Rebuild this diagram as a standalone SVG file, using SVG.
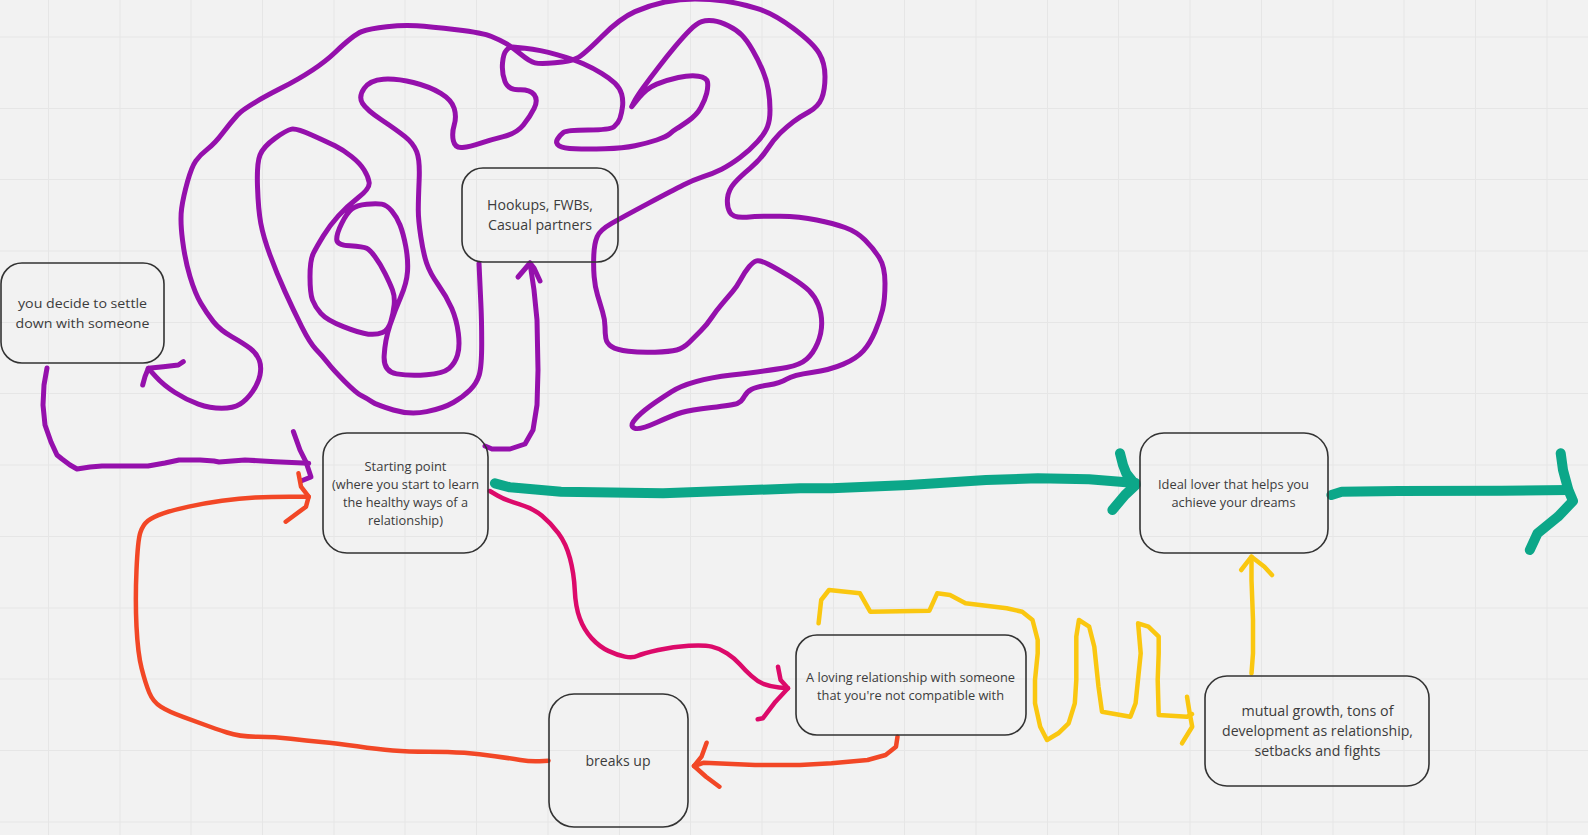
<svg xmlns="http://www.w3.org/2000/svg" width="1588" height="835" viewBox="0 0 1588 835">
<style>
.bg{fill:#f2f2f2}
.grid{stroke:#e6e6e6;stroke-width:1;fill:none}
.box{fill:none;stroke:#333;stroke-width:1.6}
.t{font-family:"Open Sans","Noto Sans","Liberation Sans",sans-serif;fill:#3c3c3c;text-anchor:middle}
.s{fill:none;stroke-linecap:round;stroke-linejoin:round}
.pu{stroke:#9510ac;stroke-width:5}
.gr{stroke:#0ca789;stroke-width:10}
.or{stroke:#f24726;stroke-width:4.5}
.pk{stroke:#dc0a6a;stroke-width:4.5}
.ye{stroke:#fac710;stroke-width:4.5}
</style>
<rect class="bg" x="0" y="0" width="1588" height="835"/>
<path class="grid" d="M48.5,0V835M120,0V835M191,0V835M262.5,0V835M334,0V835M405,0V835M476.5,0V835M548,0V835M619.5,0V835M690.5,0V835M762,0V835M833.5,0V835M904.5,0V835M976,0V835M1047.5,0V835M1118.5,0V835M1190,0V835M1261.5,0V835M1333,0V835M1404,0V835M1475.5,0V835M1547,0V835M0,37H1588M0,108.5H1588M0,179.5H1588M0,251H1588M0,322.5H1588M0,393.5H1588M0,465H1588M0,536.5H1588M0,608H1588M0,679H1588M0,750.5H1588M0,822H1588"/>

<g id="connectors">
<path class="s pu" d="M148.3,368.3 L155.8,376.65 Q163.3,385 175,392.5 Q186.7,400 198.35,404.15 Q210,408.3 221.65,408.3 Q233.3,408.3 240,404.15 Q246.7,400 252.5,391.65 Q258.3,383.3 260,375 Q261.7,366.7 259.2,360 Q256.7,353.3 250,348.3 Q243.3,343.3 231.65,336.65 Q220,330 213.35,321.65 Q206.7,313.3 200.85,303.3 Q195,293.3 190,276.65 Q185,260 182.5,240 Q180,220 181.65,208.35 Q183.3,196.7 187.5,181.7 Q191.7,166.7 195.85,160.85 Q200,155 207.5,149.15 Q215,143.3 222.5,133.3 Q230,123.3 237.5,115 Q245,106.7 280.85,88.35 Q316.7,70 335,52.5 Q353.3,35 361.65,31.65 Q370,28.3 386.65,26.65 Q403.3,25 416.65,25.85 Q430,26.7 456.5,29.85 Q483,33 491.5,36.5 Q500,40 505.85,43.35 Q511.7,46.7 520.85,54.2 Q530,61.7 535,62.85 Q540,64 555,62.85 Q570,61.7 576.65,58.35 Q583.3,55 601.65,36.65 Q620,18.3 635,11.65 Q650,5 665,2 Q680,-1 695,-1 Q710,-1 725,1.15 Q740,3.3 756.65,8.3 Q773.3,13.3 793.3,28.3 Q813.3,43.3 819.15,53.3 Q825,63.3 825,76.65 Q825,90 821.65,98.35 Q818.3,106.7 809.15,111.7 Q800,116.7 793.35,121.7 Q786.7,126.7 780,133.35 Q773.3,140 766.65,150 Q760,160 750,168.35 Q740,176.7 734.15,183.35 Q728.3,190 727.5,198.35 Q726.7,206.7 730,212.5 Q733.3,218.3 746.65,217.15 Q760,216 780,216.35 Q800,216.7 816.65,220 Q833.3,223.3 845,227.5 Q856.7,231.7 865,240 Q873.3,248.3 879.15,257.5 Q885,266.7 885,283.35 Q885,300 882.5,310 Q880,320 875,331.65 Q870,343.3 863.35,350.8 Q856.7,358.3 843.35,364.15 Q830,370 811.65,372.5 Q793.3,375 786.65,379.15 Q780,383.3 768.35,385 Q756.7,386.7 751.7,389.2 Q746.7,391.7 744.2,396.7 Q741.7,401.7 737.5,403.35 Q733.3,405 711.65,407.5 Q690,410 681.65,412.5 Q673.3,415 656.65,422.5 Q640,430 635,428.35 Q630,426.7 633.35,421.7 Q636.7,416.7 645,410 Q653.3,403.3 671.65,391.65 Q690,380 731.65,375 Q773.3,370 786.65,367.5 Q800,365 806.65,359.15 Q813.3,353.3 817.5,343.3 Q821.7,333.3 821.7,323.3 Q821.7,313.3 818.35,305 Q815,296.7 809.15,290.85 Q803.3,285 790,276.65 Q776.7,268.3 768.35,264.15 Q760,260 756.65,260.85 Q753.3,261.7 749.15,266.7 Q745,271.7 740.85,279.2 Q736.7,286.7 732.5,291.7 Q728.3,296.7 722.5,303.35 Q716.7,310 711.7,317.5 Q706.7,325 700.85,330.85 Q695,336.7 689.15,342.5 Q683.3,348.3 676.65,350 Q670,351.7 655,352.2 Q640,352.7 628.35,351.35 Q616.7,350 611.7,346.65 Q606.7,343.3 605.85,338.3 Q605,333.3 605,326.65 Q605,320 602.5,311.65 Q600,303.3 597.5,295 Q595,286.7 594.15,276.7 Q593.3,266.7 593.8,255 Q594.3,243.3 597.15,236.65 Q600,230 611.65,223.35 Q623.3,216.7 648.3,203.35 Q673.3,190 683.3,185 Q693.3,180 703.3,176.65 Q713.3,173.3 721.65,169.15 Q730,165 740,157.5 Q750,150 757.5,141.65 Q765,133.3 767.5,126.65 Q770,120 770,110 Q770,100 768.35,90 Q766.7,80 762.5,70 Q758.3,60 752.5,50 Q746.7,40 741.7,35 Q736.7,30 728.35,25.85 Q720,21.7 713.35,20.85 Q706.7,20 701.7,21.65 Q696.7,23.3 690,30 Q683.3,36.7 675,46.7 Q666.7,56.7 658.35,67.5 Q650,78.3 643.35,87.5 Q636.7,96.7 634.2,101.7 L631.7,106.7 L639.2,97.5 Q646.7,88.3 656.7,84.15 Q666.7,80 678.35,77.5 Q690,75 698.35,76.15 Q706.7,77.3 707.5,82 Q708.3,86.7 706.65,93.35 Q705,100 700.85,107.5 Q696.7,115 688.35,120.85 Q680,126.7 676.65,128.7 Q673.3,130.7 670,133.7 Q666.7,136.7 656.7,140 Q646.7,143.3 635,145.8 Q623.3,148.3 605,148.8 Q586.7,149.3 575,148.8 Q563.3,148.3 559.15,145.8 Q555,143.3 557.5,139.15 Q560,135 563.35,132.5 Q566.7,130 588.35,130 Q610,130 614.15,126.65 Q618.3,123.3 620,118.3 Q621.7,113.3 622.5,106.65 Q623.3,100 621.65,94.15 Q620,88.3 615,83.3 Q610,78.3 601.65,73.3 Q593.3,68.3 583.3,63.8 Q573.3,59.3 556.65,54.65 Q540,50 525,48.35 L510,46.7 L506.65,50 Q503.3,53.3 502.5,63.3 Q501.7,73.3 505,81.65 Q508.3,90 519.15,89.65 Q530,89.3 534.15,94.65 Q538.3,100 534.15,108.35 Q530,116.7 523.35,125 Q516.7,133.3 503.35,136.65 Q490,140 480,143.35 Q470,146.7 462.5,147.5 Q455,148.3 453.35,140.8 Q451.7,133.3 454.2,125 Q456.7,116.7 454.2,108.35 Q451.7,100 440.85,93.35 Q430,86.7 413.35,82.5 Q396.7,78.3 383.35,79.15 Q370,80 364.15,88.35 Q358.3,96.7 362.5,103.35 Q366.7,110 381.7,120 Q396.7,130 405,136.65 Q413.3,143.3 416.65,151.65 Q420,160 419.15,180 Q418.3,200 418.3,210 Q418.3,220 420.8,236.65 Q423.3,253.3 426.65,263.3 Q430,273.3 438.35,285 Q446.7,296.7 451.7,308.35 Q456.7,320 458.35,333.35 Q460,346.7 457.5,355 Q455,363.3 449.15,368.3 Q443.3,373.3 426.65,374.65 Q410,376 396.65,373.85 Q383.3,371.7 384.15,355.85 Q385,340 390,325 Q395,310 400.85,296.65 Q406.7,283.3 407.5,271.65 Q408.3,260 405.8,246.65 Q403.3,233.3 400,225 Q396.7,216.7 391.7,210.85 Q386.7,205 381.7,204.15 Q376.7,203.3 366.7,204.15 Q356.7,205 351.7,209.15 Q346.7,213.3 341.7,223.3 Q336.7,233.3 336.7,239.15 Q336.7,245 350,245.85 Q363.3,246.7 366.65,248.35 Q370,250 375,256.65 Q380,263.3 385,273.3 Q390,283.3 392.5,290 Q395,296.7 394.15,305 Q393.3,313.3 390.8,321.65 Q388.3,330 382.5,332.5 Q376.7,335 368.35,334.15 Q360,333.3 343.35,326.65 Q326.7,320 320.85,313.35 Q315,306.7 312.5,300 Q310,293.3 310,276.65 Q310,260 313.35,253.35 Q316.7,246.7 323.35,235.85 Q330,225 338.35,215.85 Q346.7,206.7 358.35,197.5 Q370,188.3 369.15,182.5 Q368.3,176.7 364.15,170 Q360,163.3 351.65,156.65 Q343.3,150 335,145.85 Q326.7,141.7 311.7,135 Q296.7,128.3 291.7,129.15 Q286.7,130 275,138.35 Q263.3,146.7 260,155 Q256.7,163.3 257.5,186.65 Q258.3,210 260.8,223.35 Q263.3,236.7 270,255 Q276.7,273.3 285,291.65 Q293.3,310 301.65,326.65 Q310,343.3 315.85,349.15 Q321.7,355 327.5,362.5 Q333.3,370 345,381.65 Q356.7,393.3 361.7,395.8 Q366.7,398.3 371.7,401.65 Q376.7,405 393.35,410 Q410,415 426.65,411.65 Q443.3,408.3 453.3,402.5 Q463.3,396.7 470,390 Q476.7,383.3 479.2,375 Q481.7,366.7 481.7,343.35 Q481.7,320 480.85,303.35 L479,263.3"/>
<path class="s pu" d="M183.3,361.7 L178.3,365 163.3,366.7 148.3,368.3 145,376.7 142.7,385"/>
<path class="s pu" d="M47,368 L44,385 43,405 45,425 51,442 57,455 62,459 70,465 77,469 90,467 102,466 148,466 165,463 179,460 200,460 214,461 219,462 245,460 275,461.7 308.7,463.3"/>
<path class="s pu" d="M293.4,431.7 L300,450 306,462 311,477 301,481"/>
<path class="s pu" d="M485,446 L492,449 510,449 525,444 533,430 537,405 538,370 537,320 534,290 530,263"/>
<path class="s pu" d="M518,277 L530,263 534,268 540,281"/>
<path class="s gr" d="M494.9,483.3 L510,487.3 561,491.7 663,493.3 800,488.3 831.5,488.3 908.8,485 986,480 1037.7,478.3 1089,479.3 1135.6,483"/>
<path class="s gr" d="M1120,453.3 L1123,465 1126.3,473.3 1135.6,485 1125,495 1112.4,510"/>
<path class="s gr" d="M1331.4,495 L1341.7,491.7 1398.4,491 1501.4,490.7 1568,490"/>
<path class="s gr" d="M1560.7,453.3 L1563,470 1568.4,490 1573,501 1558,516.7 1537.5,533.3 1529.8,550"/>
<path class="s pk" d="M489.8,491 L497.4,495.5 Q505,500 519,504.15 Q533,508.3 542,515.8 Q551,523.3 558.5,533.3 Q566,543.3 570,558.3 Q574,573.3 574.75,590 Q575.5,606.7 579.75,618.35 Q584,630 591.75,638.35 Q599.5,646.7 608.25,650.85 Q617,655 624.85,656.65 Q632.7,658.3 637.85,655.8 Q643,653.3 658.25,650 Q673.5,646.7 688.75,645.85 Q704,645 711.7,646.65 Q719.4,648.3 727.05,653.3 Q734.7,658.3 739.85,664.15 Q745,670 751.35,675.85 Q757.7,681.7 764.05,684.2 Q770.4,686.7 779.2,687.5 L788,688.3"/>
<path class="s pk" d="M778,666.7 L780.6,680 788,688.3 775.5,701.7 762.8,718.3 757.7,719.3"/>
<path class="s or" d="M548.5,760.7 L539.55,761.2 Q530.6,761.7 520.3,760 Q510,758.3 494.8,756.15 Q479.6,754 464.3,752.85 Q449,751.7 428.5,751.7 Q408,751.7 392.8,750.5 Q377.6,749.3 357.15,746.3 Q336.7,743.3 321.35,742 Q306,740.7 290.75,738.7 Q275.5,736.7 257.65,736.7 Q239.8,736.7 227.05,732.5 Q214.3,728.3 206.65,725.5 Q199,722.7 183.7,717.2 Q168.4,711.7 160.7,706.7 Q153,701.7 149.2,692.5 Q145.4,683.3 141.6,668.3 Q137.8,653.3 136.5,626.65 Q135.2,600 136.5,570 Q137.8,540 140.35,532.5 Q142.9,525 147.95,520.85 Q153,516.7 163.25,513.35 Q173.5,510 188.75,506.65 Q204,503.3 221.9,500.8 Q239.8,498.3 255.1,497.5 Q270.4,496.7 289.5,496.7 L308.7,496.7"/>
<path class="s or" d="M298.5,473.3 L301,486.7 308.7,496.7 306,506.7 285.7,521.7"/>
<path class="s or" d="M897.5,736.7 L896,746.7 885.6,755 867.6,760 831.5,763.3 800,765 755,765 704,762.7 694,766"/>
<path class="s or" d="M706.6,742.7 L701.5,756.7 694,766 706,776.7 719.4,786.7"/>
<path class="s ye" d="M818.6,623.3 L821.2,600 829,590 859.9,593.3 870.2,611.7 929.4,610.7 937.2,593.3 950,595 965.5,603.3 1006.7,608.3 1022.2,611.7 1032.5,620 1037.7,640 1037.7,653.3 1035,680 1035,703.3 1040.2,726.7 1047,740 1058.3,733.3 1068.6,723.3 1074.8,703.3 1076.3,680 1076.3,636.7 1078.9,620 1089.2,626.7 1094.3,646.7 1098.5,686.7 1102,711.7 1130.4,716.7 1135.6,703.3 1140.7,653.3 1138.1,623.3 1148.4,626.7 1158.7,636.7 1158.7,653.3 1157.7,680 1158.7,715 1187.1,716.7 1192,714"/>
<path class="s ye" d="M1187,696.7 L1189.7,713.3 1192.2,726.7 1182,743.3"/>
<path class="s ye" d="M1251.5,673.3 L1253,653.3 1253,620 1251.5,580 1251.5,556.7"/>
<path class="s ye" d="M1241.2,570 L1251.5,556.7 1264.4,566.7 1272,575"/>
</g>

<g id="node-settle">
<rect class="box" x="1" y="263" width="163" height="100" rx="21"/>
<text class="t" font-size="13.5"><tspan x="82.5" y="308" textLength="129" lengthAdjust="spacingAndGlyphs">you decide to settle</tspan><tspan x="82.5" y="328" textLength="134" lengthAdjust="spacingAndGlyphs">down with someone</tspan></text>
</g>
<g id="node-hookups">
<rect class="box" x="462" y="168" width="156" height="94" rx="21"/>
<text class="t" font-size="14"><tspan x="540" y="210" textLength="106" lengthAdjust="spacingAndGlyphs">Hookups, FWBs,</tspan><tspan x="540" y="230" textLength="104" lengthAdjust="spacingAndGlyphs">Casual partners</tspan></text>
</g>
<g id="node-start">
<rect class="box" x="323" y="433" width="165" height="120" rx="24"/>
<text class="t" font-size="13"><tspan x="405.5" y="471" textLength="82" lengthAdjust="spacingAndGlyphs">Starting point</tspan><tspan x="405.5" y="489" textLength="147" lengthAdjust="spacingAndGlyphs">(where you start to learn</tspan><tspan x="405.5" y="507" textLength="125" lengthAdjust="spacingAndGlyphs">the healthy ways of a</tspan><tspan x="405.5" y="525" textLength="75" lengthAdjust="spacingAndGlyphs">relationship)</tspan></text>
</g>
<g id="node-ideal">
<rect class="box" x="1140" y="433" width="188" height="120" rx="24"/>
<text class="t" font-size="13"><tspan x="1233.5" y="489" textLength="151" lengthAdjust="spacingAndGlyphs">Ideal lover that helps you</tspan><tspan x="1233.5" y="507" textLength="124" lengthAdjust="spacingAndGlyphs">achieve your dreams</tspan></text>
</g>
<g id="node-loving">
<rect class="box" x="796" y="635" width="230" height="100" rx="21"/>
<text class="t" font-size="13"><tspan x="910.5" y="681.5" textLength="209" lengthAdjust="spacingAndGlyphs">A loving relationship with someone</tspan><tspan x="910.5" y="699.5" textLength="187" lengthAdjust="spacingAndGlyphs">that you're not compatible with</tspan></text>
</g>
<g id="node-mutual">
<rect class="box" x="1205" y="676" width="224" height="110" rx="22"/>
<text class="t" font-size="14"><tspan x="1317.5" y="716" textLength="152" lengthAdjust="spacingAndGlyphs">mutual growth, tons of</tspan><tspan x="1317.5" y="736" textLength="191" lengthAdjust="spacingAndGlyphs">development as relationship,</tspan><tspan x="1317.5" y="756" textLength="126" lengthAdjust="spacingAndGlyphs">setbacks and fights</tspan></text>
</g>
<g id="node-breaks">
<rect class="box" x="549" y="694" width="139" height="133" rx="25"/>
<text class="t" font-size="14"><tspan x="618" y="765.5" textLength="65" lengthAdjust="spacingAndGlyphs">breaks up</tspan></text>
</g>
</svg>
